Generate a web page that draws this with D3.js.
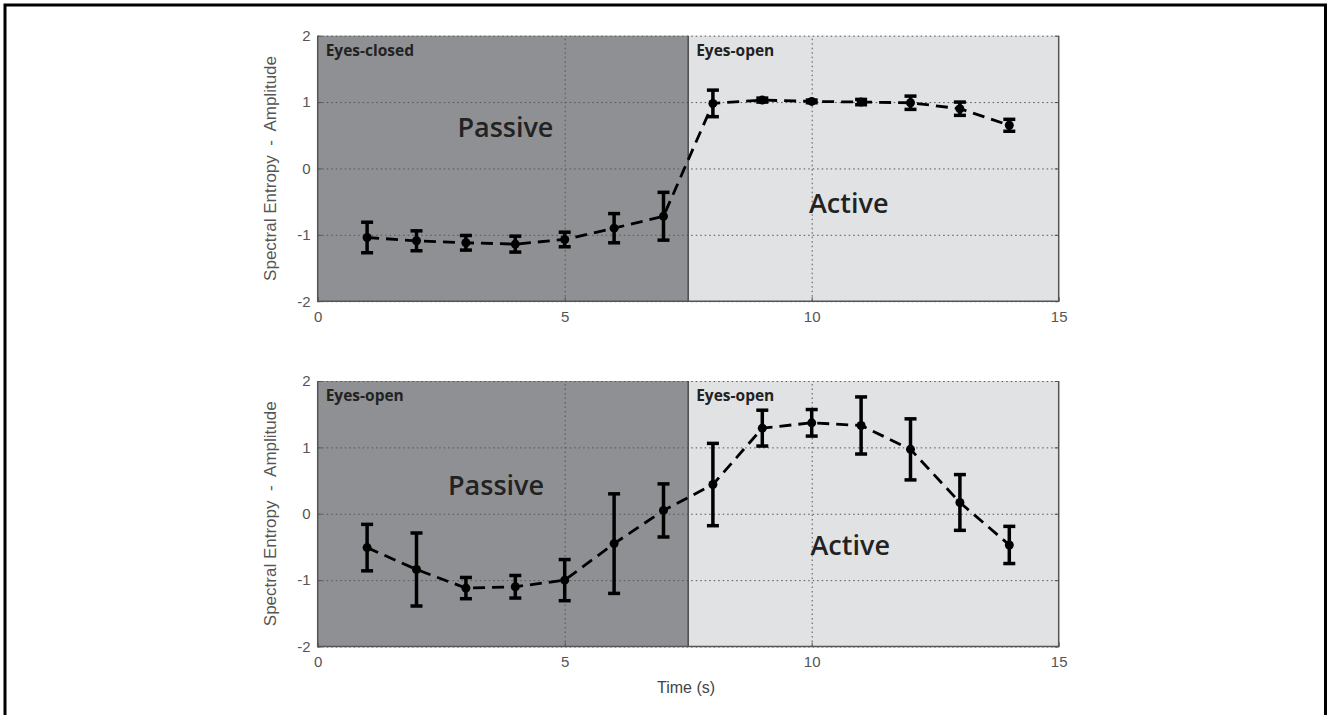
<!DOCTYPE html>
<html>
<head>
<meta charset="utf-8">
<script src="https://cdn.jsdelivr.net/npm/d3@7"></script>
<style>
  html, body { margin: 0; padding: 0; background: #fff; }
  svg { display: block; }
</style>
</head>
<body>
<svg id="chart" width="1329" height="715"></svg>
<script>
// ---- data ----
const times = [1, 2, 3, 4, 5, 6, 7, 8, 9, 10, 11, 12, 13, 14];
const topMean = [-1.04, -1.09, -1.12, -1.14, -1.07, -0.90, -0.72, 0.98, 1.03, 1.01, 1.00, 0.99, 0.90, 0.65];
const topErr  = [0.23, 0.15, 0.11, 0.12, 0.11, 0.22, 0.36, 0.20, 0.03, 0.02, 0.04, 0.10, 0.10, 0.09];
const botMean = [-0.51, -0.84, -1.12, -1.10, -1.00, -0.45, 0.05, 0.44, 1.29, 1.37, 1.33, 0.97, 0.17, -0.47];
const botErr  = [0.35, 0.55, 0.16, 0.17, 0.31, 0.75, 0.40, 0.62, 0.27, 0.20, 0.43, 0.46, 0.42, 0.28];
const xTicks = [0, 5, 10, 15];
const yTicks = [-2, -1, 0, 1, 2];
const boundary = 7.5;
const panels = [
  { mean: topMean, err: topErr, leftLabel: "Eyes-closed", rightLabel: "Eyes-open",
    passive: [3.8, 0.48], active: [10.75, -0.67], top: 35.7 },
  { mean: botMean, err: botErr, leftLabel: "Eyes-open", rightLabel: "Eyes-open",
    passive: [3.61, 0.28], active: [10.78, -0.62], top: 381 }
];
const yLabel = "Spectral Entropy  -  Amplitude";
const xLabel = "Time (s)";

// ---- layout ----
const svg = d3.select("#chart");
const left = 317.7, plotW = 741, plotH = 265.5;
const x = d3.scaleLinear().domain([0, 15]).range([left, left + plotW]);
const sans = "Liberation Sans, Arial, sans-serif";
const fmt = d => String(d);

// outer frame
svg.append("rect").attr("x", 5).attr("y", 5).attr("width", 1320.5).attr("height", 730)
  .attr("fill", "none").attr("stroke", "#000").attr("stroke-width", 3);

panels.forEach(p => {
  const y = d3.scaleLinear().domain([-2, 2]).range([p.top + plotH, p.top]);
  const g = svg.append("g");
  const y0 = y(2), y1 = y(-2);

  // background regions
  g.append("rect").attr("x", x(0)).attr("y", y0).attr("width", x(boundary) - x(0)).attr("height", y1 - y0)
    .attr("fill", "#8f9093");
  g.append("rect").attr("x", x(boundary)).attr("y", y0).attr("width", x(15) - x(boundary)).attr("height", y1 - y0)
    .attr("fill", "#e1e2e4");

  // grid (dotted)
  const gx = g.append("g").attr("transform", `translate(0,${y1})`)
    .call(d3.axisBottom(x).tickValues(xTicks.slice(1, -1)).tickSize(-(y1 - y0)).tickFormat(""));
  gx.select(".domain").remove();
  gx.selectAll("line").attr("stroke", "#555").attr("stroke-width", 1).attr("stroke-dasharray", "1.5,3");
  const gy = g.append("g").attr("transform", `translate(${x(0)},0)`)
    .call(d3.axisLeft(y).tickValues(yTicks).tickSize(-plotW).tickFormat(""));
  gy.select(".domain").remove();
  gy.selectAll("line").attr("stroke", "#555").attr("stroke-width", 1).attr("stroke-dasharray", "1.5,3");

  // boundary line
  g.append("line").attr("x1", x(boundary)).attr("x2", x(boundary)).attr("y1", y0).attr("y2", y1)
    .attr("stroke", "#4a4a4a").attr("stroke-width", 1.5);

  // axes frame: left, bottom, right solid
  g.append("path").attr("d", `M${x(0)},${y0}V${y1}H${x(15)}V${y0}`)
    .attr("fill", "none").attr("stroke", "#555").attr("stroke-width", 1.5);

  // tick labels
  const ax = g.append("g").attr("transform", `translate(0,${y1})`)
    .call(d3.axisBottom(x).tickValues(xTicks).tickSize(-4).tickPadding(10).tickFormat(fmt));
  ax.select(".domain").remove();
  ax.selectAll("line").attr("stroke", "#555");
  ax.selectAll("text").attr("font-family", sans).attr("font-size", 15).attr("fill", "#555");
  const ay = g.append("g").attr("transform", `translate(${x(0)},0)`)
    .call(d3.axisLeft(y).tickValues(yTicks).tickSize(-4).tickPadding(7).tickFormat(fmt));
  ay.select(".domain").remove();
  ay.selectAll("line").attr("stroke", "#555");
  ay.selectAll("text").attr("font-family", sans).attr("font-size", 15).attr("fill", "#555");
  const ayr = g.append("g").attr("transform", `translate(${x(15)},0)`)
    .call(d3.axisRight(y).tickValues(yTicks).tickSize(-4).tickFormat(""));
  ayr.select(".domain").remove();
  ayr.selectAll("line").attr("stroke", "#555");

  // y label
  g.append("text")
    .attr("transform", `translate(276,${(y0 + y1) / 2}) rotate(-90)`)
    .attr("text-anchor", "middle").style("white-space", "pre")
    .attr("font-family", sans).attr("font-size", 17)
    .attr("fill", "#555").text(yLabel);

  // region labels
  const lab = { "font-family": "Open Sans, sans-serif", "font-weight": 700, fill: "#222" };
  const t1 = g.append("text").attr("x", x(0) + 8).attr("y", y0 + 20).attr("font-size", 15.5).text(p.leftLabel);
  const t2 = g.append("text").attr("x", x(boundary) + 8).attr("y", y0 + 20).attr("font-size", 15.5).text(p.rightLabel);
  const t3 = g.append("text").attr("x", x(p.passive[0])).attr("y", y(p.passive[1])).attr("text-anchor", "middle")
    .attr("font-size", 27).text("Passive");
  const t4 = g.append("text").attr("x", x(p.active[0])).attr("y", y(p.active[1])).attr("text-anchor", "middle")
    .attr("font-size", 27).text("Active");
  [t1, t2, t3, t4].forEach(t => { for (const k in lab) t.attr(k, lab[k]); });
  t3.attr("font-weight", 600); t4.attr("font-weight", 600);

  // data
  const data = times.map((t, i) => ({ t, m: p.mean[i], e: p.err[i] }));
  const line = d3.line().x(d => x(d.t)).y(d => y(d.m));
  g.append("path").datum(data).attr("d", line)
    .attr("fill", "none").attr("stroke", "#000").attr("stroke-width", 2.8).attr("stroke-dasharray", "12,7");

  const eb = g.append("g").selectAll("g").data(data).join("g");
  eb.append("line").attr("x1", d => x(d.t)).attr("x2", d => x(d.t))
    .attr("y1", d => y(d.m + d.e)).attr("y2", d => y(d.m - d.e))
    .attr("stroke", "#000").attr("stroke-width", 3.5);
  eb.append("line").attr("x1", d => x(d.t) - 6).attr("x2", d => x(d.t) + 6)
    .attr("y1", d => y(d.m + d.e)).attr("y2", d => y(d.m + d.e))
    .attr("stroke", "#000").attr("stroke-width", 3.5);
  eb.append("line").attr("x1", d => x(d.t) - 6).attr("x2", d => x(d.t) + 6)
    .attr("y1", d => y(d.m - d.e)).attr("y2", d => y(d.m - d.e))
    .attr("stroke", "#000").attr("stroke-width", 3.5);
  eb.append("circle").attr("cx", d => x(d.t)).attr("cy", d => y(d.m)).attr("r", 4.5).attr("fill", "#000");
});

svg.append("text").attr("x", 686).attr("y", 693).attr("text-anchor", "middle")
  .attr("font-family", sans).attr("font-size", 16)
  .attr("fill", "#444").text(xLabel);
</script>
</body>
</html>
